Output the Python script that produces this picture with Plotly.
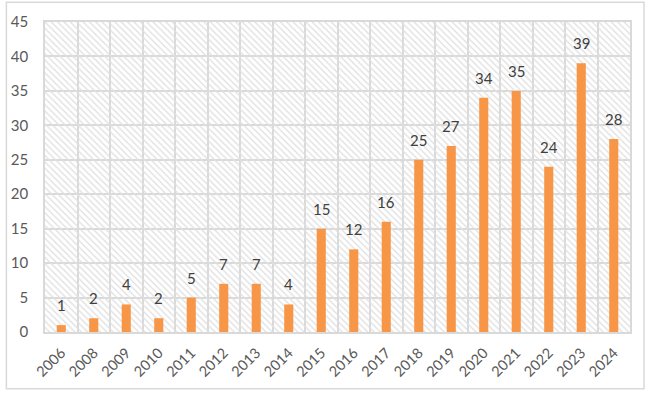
import plotly.graph_objects as go

years = ["2006", "2008", "2009", "2010", "2011", "2012", "2013", "2014", "2015",
         "2016", "2017", "2018", "2019", "2020", "2021", "2022", "2023", "2024"]
counts = [1, 2, 4, 2, 5, 7, 7, 4, 15, 12, 16, 25, 27, 34, 35, 24, 39, 28]
y_max = 45
y_step = 5

FONT = "Lato, Open Sans, sans-serif"

fig = go.Figure()
# hatched plot-area background
fig.add_trace(go.Bar(
    x=years, y=[y_max] * len(years), width=1,
    marker=dict(color="rgba(0,0,0,0)", line=dict(width=0),
                pattern=dict(shape="\\", size=4.5, solidity=0.3,
                             fgcolor="#E0E0E0", bgcolor="rgba(0,0,0,0)")),
    hoverinfo="skip", showlegend=False,
))
fig.add_trace(go.Bar(
    x=years, y=counts, width=0.28,
    marker=dict(color="#F79646", line=dict(width=0)),
    showlegend=False,
))

# data labels: category index on the category axis, value on the y axis
annotations = [
    dict(x=i, y=c, text=str(c), xref="x", yref="y", showarrow=False,
         yanchor="bottom", yshift=9,
         font=dict(family=FONT, size=15, color="#404040"))
    for i, c in enumerate(counts)
]

fig.update_layout(
    template="none",
    width=654, height=393,
    margin=dict(l=45, r=24, t=22, b=61, autoexpand=False),
    paper_bgcolor="white", plot_bgcolor="white",
    barmode="overlay",
    font=dict(family=FONT, size=14, color="#595959"),
    xaxis=dict(type="category", tickson="boundaries", showgrid=True,
               range=[-0.5, len(years) - 0.5],
               gridcolor="#D9D9D9", gridwidth=1.5, ticks="", tickangle=-45,
               showline=True, linecolor="#D9D9D9", linewidth=1.5, mirror=True,
               automargin=False, zeroline=False, ticklabelstandoff=5,
               tickfont=dict(family=FONT, size=14.5, color="#595959")),
    yaxis=dict(range=[0, y_max], dtick=y_step, showgrid=True,
               gridcolor="#D9D9D9", gridwidth=1.5, zeroline=False,
               showline=True, linecolor="#D9D9D9", linewidth=1.5, mirror=True,
               ticks="", ticklabelstandoff=12, automargin=False,
               tickfont=dict(family=FONT, size=15, color="#595959")),
    annotations=annotations,
    shapes=[dict(type="rect", xref="paper", yref="paper",
                 x0=-0.066, x1=1.024, y0=-0.183, y1=1.064,
                 line=dict(color="#D9D9D9", width=1.5), layer="below")],
)

fig.write_html("out.html", config={"displayModeBar": False},
               post_script="document.body.style.margin='0';document.body.style.overflow='hidden';")
